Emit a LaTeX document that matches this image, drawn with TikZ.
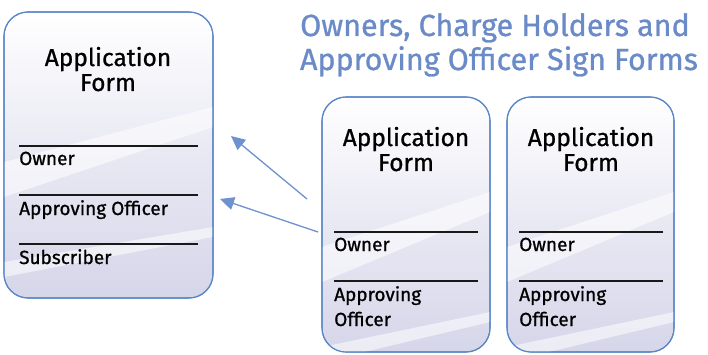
\documentclass[tikz,border=0pt]{standalone}
\usepackage{fontspec}
\setmainfont{Fira Sans}[FakeBold=0.9]
\usetikzlibrary{arrows.meta}
\definecolor{cardedge}{HTML}{5A86C6}
\definecolor{titleblue}{HTML}{6A8BC8}
\definecolor{arrowblue}{HTML}{6F91CE}
\definecolor{cardbot}{HTML}{D6D6EA}
\tikzset{
  card/.style={draw=cardedge, line width=1.1pt, rounded corners=24pt, top color=white, bottom color=cardbot, middle color=cardbot!55},
  streak/.style={fill=white, opacity=0.55},
  head/.style={font=\fontsize{24.5}{26}\selectfont, text=black, anchor=base},
  lbl/.style={font=\fontsize{19}{20}\selectfont, text=black, anchor=base west, inner sep=0pt},
  rule/.style={line width=1.6pt, black!90},
  conn/.style={draw=arrowblue, line width=1.3pt, -{Triangle[length=14pt,width=13pt]}},
  ttl/.style={font=\fontsize{30.5}{31}\selectfont, text=titleblue, anchor=base}
}
\newcommand{\cardshape}[4]{%
  \path[card] (#1,#2) rectangle (#3,#4);
  \begin{scope}
    \clip[rounded corners=24pt] (#1,#2) rectangle (#3,#4);
    \fill[streak] (#1,#2+150) -- (#3,#2+95) -- (#3,#2+115) -- (#1,#2+185) -- cycle;
    \fill[streak] (#1,#2+250) -- (#3,#2+215) -- (#3,#2+225) -- (#1,#2+265) -- cycle;
  \end{scope}
  \draw[draw=cardedge, line width=1.1pt, rounded corners=24pt] (#1,#2) rectangle (#3,#4);
}
\begin{document}
\begin{tikzpicture}[x=1pt,y=-1pt]
\useasboundingbox (0,0) rectangle (708,355);
% title
\node[ttl] (t1) at (495,36) {Owners, Charge Holders and};
\node[ttl] (t2) at (499,70) {Approving Officer Sign Forms};
% left card
\cardshape{4}{12}{213}{298}
\node[head] (lh1) at (108,66) {Application};
\node[head] (lh2) at (108,91) {Form};
\draw[rule] (19,146) -- (198,146);
\draw[rule] (19,195) -- (198,195);
\draw[rule] (19,244) -- (198,244);
\node[lbl] (lo) at (19,165) {Owner};
\node[lbl] (la) at (19,215) {Approving Officer};
\node[lbl] (ls) at (19,264) {Subscriber};
% middle card
\cardshape{322}{97}{490}{352}
\node[head] (mh1) at (406,146) {Application};
\node[head] (mh2) at (406,171) {Form};
\draw[rule] (334,232) -- (478,232);
\draw[rule] (334,281) -- (478,281);
\node[lbl] (mo) at (334,251) {Owner};
\node[lbl] (ma1) at (334,301) {Approving};
\node[lbl] (ma2) at (334,326) {Officer};
% right card
\cardshape{507}{97}{674}{352}
\node[head] (rh1) at (591,146) {Application};
\node[head] (rh2) at (591,171) {Form};
\draw[rule] (519,232) -- (663,232);
\draw[rule] (519,281) -- (663,281);
\node[lbl] (ro) at (519,251) {Owner};
\node[lbl] (ra1) at (519,301) {Approving};
\node[lbl] (ra2) at (519,326) {Officer};
% connectors
\coordinate (s1) at (307,199);
\coordinate (e1) at (231,136);
\coordinate (s2) at (318,232);
\coordinate (e2) at (220,199);
\draw[conn] (s1) -- (e1);
\draw[conn] (s2) -- (e2);
\end{tikzpicture}
\end{document}
